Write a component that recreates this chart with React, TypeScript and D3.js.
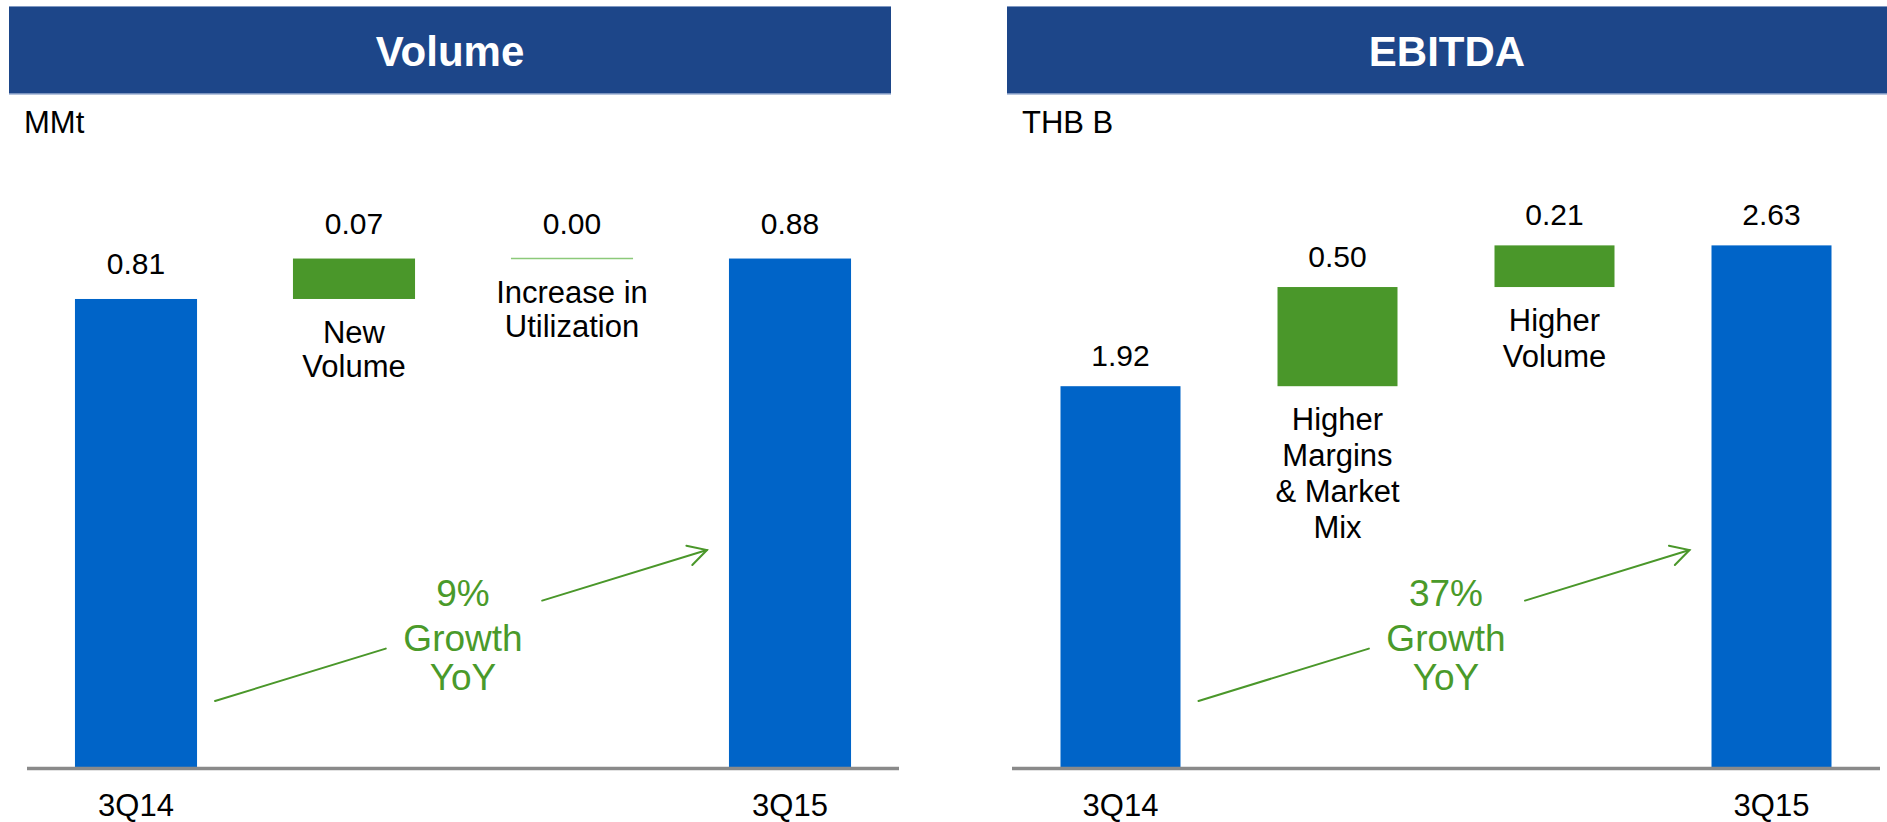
import React from "react";
import * as d3 from "d3";

// ---- Data ----
const volumeCategories = ["3Q14", "New Volume", "Increase in Utilization", "3Q15"];
const volumeLabelLines = [["3Q14"], ["New", "Volume"], ["Increase in", "Utilization"], ["3Q15"]];
const volumeValues = [0.81, 0.07, 0.0, 0.88];
const volumeKinds = ["total", "delta", "delta", "total"];
const volumeUnit = "MMt";
const volumeTitle = "Volume";
const volumeGrowth = ["9%", "Growth", "YoY"];

const ebitdaCategories = ["3Q14", "Higher Margins & Market Mix", "Higher Volume", "3Q15"];
const ebitdaLabelLines = [["3Q14"], ["Higher", "Margins", "& Market", "Mix"], ["Higher", "Volume"], ["3Q15"]];
const ebitdaValues = [1.92, 0.5, 0.21, 2.63];
const ebitdaKinds = ["total", "delta", "delta", "total"];
const ebitdaUnit = "THB B";
const ebitdaTitle = "EBITDA";
const ebitdaGrowth = ["37%", "Growth", "YoY"];

const FONT = "'Liberation Sans', Arial, Helvetica, sans-serif";
const HEADER = "#1D4689";
const BLUE = "#0064C8";
const GREEN = "#4A972A";
const ZERO_GREEN = "#8CC97A";
const TEXT_GREEN = "#4A9A2A";
const AXIS = "#8A8A8A";

type PanelProps = {
  title: string;
  unit: string;
  categories: string[];
  labelLines: string[][];
  values: number[];
  kinds: string[];
  growth: string[];
  headerX: [number, number];
  axisX: [number, number];
  yMax: number;
  yTop: number;
  padInner: number;
  valueGap: number;
  lineGap: number;
};

function Panel(p: PanelProps) {
  const baseline = 767;
  const x = d3
    .scaleBand<string>()
    .domain(p.categories)
    .range(p.axisX)
    .paddingInner(p.padInner)
    .paddingOuter(p.padInner / 2);
  const y = d3.scaleLinear().domain([0, p.yMax]).range([baseline, p.yTop]);
  const bw = x.bandwidth();

  // waterfall bars
  let cum = 0;
  const bars = p.values.map((v, i) => {
    let y0: number, y1: number;
    if (p.kinds[i] === "total") {
      y0 = 0;
      y1 = v;
      cum = v;
    } else {
      y0 = cum;
      y1 = cum + v;
      cum = y1;
    }
    return { cat: p.categories[i], v, kind: p.kinds[i], y0, y1, lines: p.labelLines[i] };
  });

  const first = p.categories[0];
  const last = p.categories[p.categories.length - 1];
  const ax0 = (x(first) as number) + bw + 18;
  const ax1 = (x(last) as number) - 22;
  const ay0 = 701;
  const ay1 = 550;
  const lerp = (t: number) => [ax0 + (ax1 - ax0) * t, ay0 + (ay1 - ay0) * t];
  const s1a = lerp(0);
  const s1b = lerp(0.347);
  const s2a = lerp(0.665);
  const s2b = lerp(1);
  const ang = Math.atan2(ay0 - ay1, ax0 - ax1);
  const headLen = 21;
  const h1 = [ax1 + headLen * Math.cos(ang - 0.5), ay1 + headLen * Math.sin(ang - 0.5)];
  const h2 = [ax1 + headLen * Math.cos(ang + 0.5), ay1 + headLen * Math.sin(ang + 0.5)];
  const midX = (ax0 + ax1) / 2 + 2;

  const hx0 = p.headerX[0];
  const hx1 = p.headerX[1];

  return (
    <g>
      <rect x={hx0} y={6} width={hx1 - hx0} height={88} fill={HEADER} />
      <line x1={hx0} x2={hx1} y1={6.5} y2={6.5} stroke="#7F98C2" strokeWidth={1} />
      <line x1={hx0} x2={hx1} y1={94} y2={94} stroke="#9DB1D3" strokeWidth={1.5} />
      <text x={(hx0 + hx1) / 2} y={66} textAnchor="middle" fill="#fff" fontSize={42} fontWeight="bold" fontFamily={FONT}>
        {p.title}
      </text>
      <text x={hx0 + 15} y={133} fontSize={31} fill="#000" fontFamily={FONT}>
        {p.unit}
      </text>

      {bars.map((b) => {
        const bx = x(b.cat) as number;
        const top = y(Math.max(b.y0, b.y1));
        const bot = y(Math.min(b.y0, b.y1));
        const cx = bx + bw / 2;
        return (
          <g key={b.cat}>
            {b.kind === "total" ? (
              <rect x={bx} y={top} width={bw} height={bot - top} fill={BLUE} />
            ) : b.v === 0 ? (
              <line x1={bx} x2={bx + bw} y1={top} y2={top} stroke={ZERO_GREEN} strokeWidth={1.6} />
            ) : (
              <rect x={bx} y={top} width={bw} height={bot - top} fill={GREEN} />
            )}
            <text x={cx} y={top - p.valueGap} textAnchor="middle" fontSize={30} fill="#000" fontFamily={FONT}>
              {b.v.toFixed(2)}
            </text>
            {b.kind === "total" ? (
              <text x={cx} y={816} textAnchor="middle" fontSize={31} fill="#000" fontFamily={FONT}>
                {b.cat}
              </text>
            ) : (
              <text textAnchor="middle" fontSize={31} fill="#000" fontFamily={FONT}>
                {b.lines.map((ln, k) => (
                  <tspan key={k} x={cx} y={bot + 44 + k * p.lineGap}>
                    {ln}
                  </tspan>
                ))}
              </text>
            )}
          </g>
        );
      })}

      <line x1={p.axisX[0]} x2={p.axisX[1]} y1={768.5} y2={768.5} stroke={AXIS} strokeWidth={3.5} />

      <g stroke={GREEN} strokeWidth={2} fill="none" strokeLinecap="round">
        <line x1={s1a[0]} y1={s1a[1]} x2={s1b[0]} y2={s1b[1]} />
        <line x1={s2a[0]} y1={s2a[1]} x2={s2b[0]} y2={s2b[1]} />
        <polyline points={`${h1[0]},${h1[1]} ${ax1},${ay1} ${h2[0]},${h2[1]}`} />
      </g>
      <text textAnchor="middle" fontSize={37} fill={TEXT_GREEN} fontFamily={FONT}>
        <tspan x={midX} y={606}>{p.growth[0]}</tspan>
        <tspan x={midX} y={651}>{p.growth[1]}</tspan>
        <tspan x={midX} y={690}>{p.growth[2]}</tspan>
      </text>
    </g>
  );
}

export default function App() {
  return (
    <svg
      width={1887}
      height={822}
      style={{ position: "absolute", left: 0, top: 0, display: "block", background: "#fff" }}
    >
      <rect x={0} y={0} width={1887} height={822} fill="#fff" />
      <Panel
        title={volumeTitle}
        unit={volumeUnit}
        categories={volumeCategories}
        labelLines={volumeLabelLines}
        values={volumeValues}
        kinds={volumeKinds}
        growth={volumeGrowth}
        headerX={[9, 891]}
        axisX={[27, 899]}
        yMax={1}
        yTop={189.2}
        padInner={0.44}
        valueGap={25}
        lineGap={34}
      />
      <Panel
        title={ebitdaTitle}
        unit={ebitdaUnit}
        categories={ebitdaCategories}
        labelLines={ebitdaLabelLines}
        values={ebitdaValues}
        kinds={ebitdaKinds}
        growth={ebitdaGrowth}
        headerX={[1007, 1887]}
        axisX={[1012, 1880]}
        yMax={3}
        yTop={172}
        padInner={0.447}
        valueGap={20}
        lineGap={36}
      />
    </svg>
  );
}
